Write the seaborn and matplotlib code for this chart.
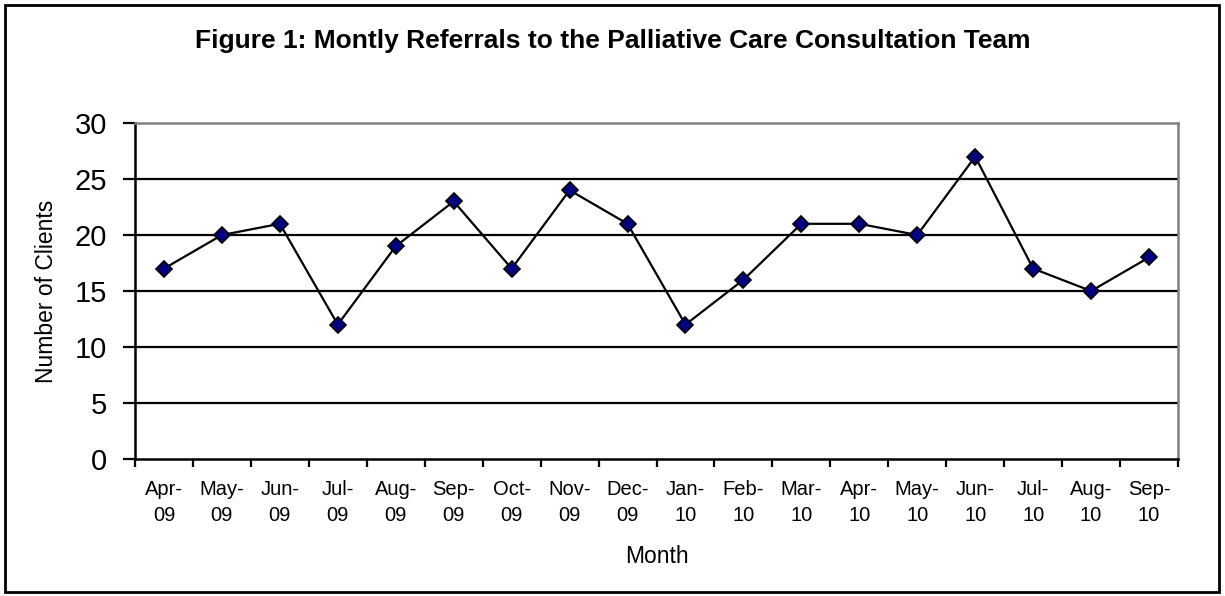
import numpy as np
import pandas as pd
import matplotlib
matplotlib.use("Agg")
import matplotlib.pyplot as plt
import seaborn as sns
from matplotlib.patches import Rectangle
from matplotlib.ticker import FixedLocator

months = ["Apr-\n09", "May-\n09", "Jun-\n09", "Jul-\n09", "Aug-\n09", "Sep-\n09",
          "Oct-\n09", "Nov-\n09", "Dec-\n09", "Jan-\n10", "Feb-\n10", "Mar-\n10",
          "Apr-\n10", "May-\n10", "Jun-\n10", "Jul-\n10", "Aug-\n10", "Sep-\n10"]
clients = [17, 20, 21, 12, 19, 23, 17, 24, 21, 12, 16, 21, 21, 20, 27, 17, 15, 18]
yticks = [0, 5, 10, 15, 20, 25, 30]

sns.set_style("white")
plt.rcParams['font.family'] = ['Liberation Sans', 'DejaVu Sans']
plt.rcParams.update({"text.color": "black", "axes.labelcolor": "black",
                     "xtick.color": "black", "ytick.color": "black"})

df = pd.DataFrame({"pos": np.arange(len(months)), "clients": clients})

fig = plt.figure(figsize=(12.25, 5.96), dpi=100)
W, H = 1225, 596
left, right, top, bottom = 135, 1178, 123, 459
ax = fig.add_axes([left / W, 1 - bottom / H, (right - left) / W, (bottom - top) / H])

sns.lineplot(data=df, x="pos", y="clients", ax=ax, color="black", linewidth=1.6,
             marker="D", markersize=8, markerfacecolor="#000080",
             markeredgecolor="black", markeredgewidth=1.2, zorder=5)

ax.set_xlim(-0.5, len(months) - 0.5)
ax.set_ylim(0, 30)
ax.set_yticks(yticks)
ax.set_yticklabels([str(v) for v in yticks], fontsize=21, color="black")
for v in yticks[1:-1]:
    ax.axhline(v, color="black", linewidth=1.6, zorder=1)

ax.set_xticks(np.arange(len(months)))
ax.set_xticklabels(months, fontsize=14.5, linespacing=1.45, color="black")
ax.xaxis.set_minor_locator(FixedLocator(np.arange(-0.5, len(months), 1.0)))
ax.tick_params(axis="x", which="major", length=0, pad=15)
ax.tick_params(axis="x", which="minor", length=6, width=1.6, color="black", direction="out", bottom=True)
ax.tick_params(axis="y", which="major", length=9, width=1.6, color="black", direction="out", left=True, pad=11)

for s in ["left", "bottom"]:
    ax.spines[s].set_color("black")
    ax.spines[s].set_linewidth(1.8)
for s in ["top", "right"]:
    ax.spines[s].set_color("#808080")
    ax.spines[s].set_linewidth(1.8)
    ax.spines[s].set_visible(True)

ax.set_xlabel("Month", fontsize=16.5, labelpad=15, color="black")
ax.set_ylabel("Number of Clients", fontsize=16.5, labelpad=12, color="black")

fig.text(0.5, 1 - 41 / H, "Figure 1: Montly Referrals to the Palliative Care Consultation Team",
         ha="center", va="center", fontsize=19, fontweight="bold", color="black")

fig.patches.append(Rectangle((5 / W, 4 / H), 1214 / W, 587 / H, transform=fig.transFigure,
                             fill=False, edgecolor="black", linewidth=2))

fig.savefig("out.png", dpi=100)
